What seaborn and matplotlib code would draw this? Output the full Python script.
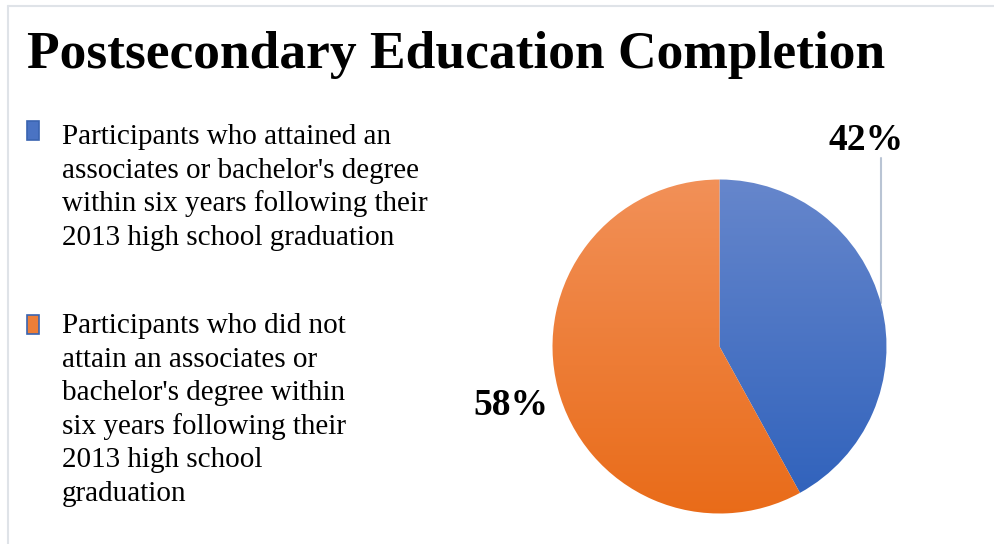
import numpy as np
import matplotlib
matplotlib.use("Agg")
import matplotlib.pyplot as plt
import seaborn as sns
from matplotlib.colors import LinearSegmentedColormap
from matplotlib.patches import Rectangle

sns.set_theme(style="white")
plt.rcParams["font.family"] = ["Liberation Serif", "DejaVu Serif"]

# Data
title = "Postsecondary Education Completion"
categories = [
    ["Participants who attained an",
     "associates or bachelor's degree",
     "within six years following their",
     "2013 high school graduation"],
    ["Participants who did not",
     "attain an associates or",
     "bachelor's degree within",
     "six years following their",
     "2013 high school",
     "graduation"],
]
shares = [42, 58]
slice_labels = ["42%", "58%"]

# Top / bottom colours of the vertical gradient for each slice
grad_top = ["#6787cc", "#f29159"]
grad_bottom = ["#2d60bb", "#e96b18"]
edge_colors = ["#3a64b0", "#3a64b0"]

W, H = 995, 544
fig = plt.figure(figsize=(W / 100, H / 100), dpi=100)
fig.patch.set_facecolor("white")


def fx(px):
    return px / W


def fy(py):
    return 1 - py / H


# Thin frame along the top and left
fig.add_artist(plt.Line2D([fx(8), fx(8)], [fy(6), fy(H)], color="#dfe3e8", lw=1.5))
fig.add_artist(plt.Line2D([fx(8), fx(W)], [fy(6), fy(6)], color="#dfe3e8", lw=1.5))

fig.text(fx(27), fy(68), title, fontsize=38.5, fontweight="bold", ha="left",
         va="baseline", color="black")

# Legend
first_baselines = [144, 333]
line_step = 33.6
marker_tops = [121, 315]
for i, lines in enumerate(categories):
    for j, line in enumerate(lines):
        fig.text(fx(62), fy(first_baselines[i] + j * line_step), line, fontsize=21,
                 ha="left", va="baseline", color="black")
    cmap = LinearSegmentedColormap.from_list(f"m{i}", [grad_top[i], grad_bottom[i]])
    fig.add_artist(Rectangle((fx(27), fy(marker_tops[i] + 19)), fx(12), 19 / H,
                             facecolor=cmap(0.5), edgecolor=edge_colors[i], lw=1.2,
                             transform=fig.transFigure))

# Pie
cx, cy, r = 719.5, 346.5, 167
pad = 1.1
ax = fig.add_axes([fx(cx - pad * r), fy(cy + pad * r), 2 * pad * r / W, 2 * pad * r / H])
wedges, _ = ax.pie(shares, startangle=90, counterclock=False, radius=1,
                   wedgeprops=dict(linewidth=0))
ax.set_xlim(-pad, pad)
ax.set_ylim(-pad, pad)
ax.set_aspect("equal")
ax.axis("off")

grad = np.linspace(0, 1, 256).reshape(-1, 1)
ext = 1.03
for i, w in enumerate(wedges):
    w.set_facecolor("none")
    cmap = LinearSegmentedColormap.from_list(f"w{i}", [grad_top[i], grad_bottom[i]])
    im = ax.imshow(grad, cmap=cmap, extent=(-ext, ext, -ext, ext), origin="upper",
                   aspect="auto", zorder=1, interpolation="bilinear")
    im.set_clip_path(w)


def to_data(px, py):
    return (px - cx) / r, (cy - py) / r


# Data labels
lx, ly = to_data(866, 150)
ax.text(lx, ly, slice_labels[0], fontsize=27, fontweight="bold",
        ha="center", va="baseline", color="black", clip_on=False)
lx, ly = to_data(511, 415)
ax.text(lx, ly, slice_labels[1], fontsize=27, fontweight="bold",
        ha="center", va="baseline", color="black", clip_on=False)
# Leader line for the first slice
ang = np.deg2rad(15)
top_y = to_data(0, 158)[1]
ax.plot([np.cos(ang), np.cos(ang)], [np.sin(ang), top_y], color="#b9c4d4", lw=1.5,
        clip_on=False, zorder=0)

fig.savefig("out.png", dpi=100, facecolor="white")
